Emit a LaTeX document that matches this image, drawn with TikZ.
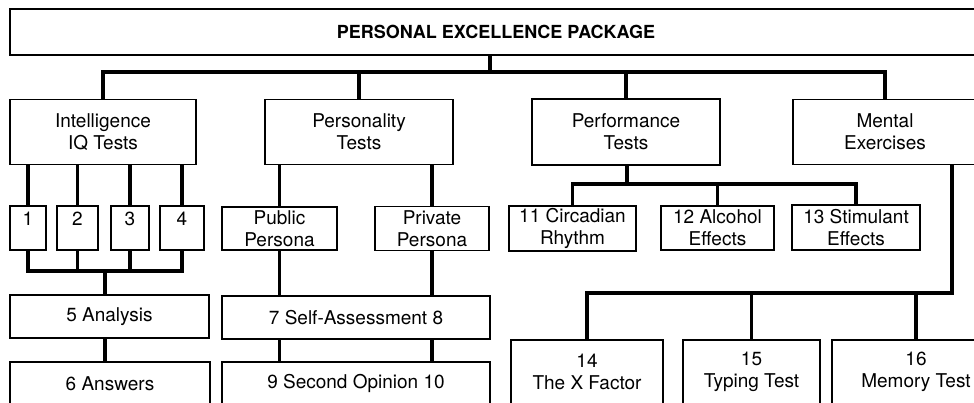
\documentclass[tikz,border=0pt]{standalone}
\usepackage{fontspec}
\setmainfont{TeX Gyre Heros}
\usetikzlibrary{positioning,calc}
\tikzset{
    box/.style = {
        draw,
        line width=1.3pt,
        inner sep=0pt,
        align=center,
        font=\fontsize{19}{22}\selectfont,
        },
    numbox/.style = {
        box,
        minimum width=36pt,
        minimum height=44pt,
        text height=20pt,
        text depth=24pt,
        },
    title/.style = {
        box,
        font=\fontsize{18}{22}\selectfont\bfseries,
        },
    conn/.style = {
        draw,
        line width=3.4pt,
        },
}

\begin{document}
\begin{tikzpicture}[x=1pt, y=-1pt]
            \useasboundingbox (0,0) rectangle (974,403);
            \clip (0,0) rectangle (974,403);

            \node[title, minimum width=972pt, minimum height=46pt] (top) at (496,32) {PERSONAL EXCELLENCE PACKAGE};

            \node[box, minimum width=186pt, minimum height=65pt] (iq) at (103,132) {Intelligence\\IQ Tests};
            \node[box, minimum width=188pt, minimum height=65pt] (pers) at (359,132) {Personality\\Tests};
            \node[box, minimum width=188pt, minimum height=66pt] (perf) at (626,132) {Performance\\Tests};
            \node[box, minimum width=184pt, minimum height=65pt] (ment) at (885,132) {Mental\\Exercises};

            % intelligence branch
            \node[numbox] (n1) at (28,228) {1};
            \node[numbox, minimum width=41pt] (n2) at (77.5,228) {2};
            \node[numbox, minimum width=38pt] (n3) at (130,228) {3};
            \node[numbox, minimum width=44pt] (n4) at (182,228) {4};
            \node[box, minimum width=199pt, minimum height=43pt] (ana) at (109.5,316.5) {5 Analysis};
            \node[box, minimum width=200pt, minimum height=43pt] (ans) at (110,383.5) {6 Answers};

            % personality branch
            \node[box, minimum width=115pt, minimum height=43pt] (pub) at (279.5,228.5) {Public\\Persona};
            \node[box, minimum width=114pt, minimum height=44pt] (priv) at (432,228.5) {Private\\Persona};
            \node[box, minimum width=268pt, minimum height=43pt] (self) at (356,317.5) {7 Self-Assessment 8};
            \node[box, minimum width=268pt, minimum height=43pt] (sec) at (356,383.5) {9 Second Opinion 10};

            % performance branch
            \node[box, minimum width=127pt, minimum height=45pt] (circ) at (572.5,228.5) {11 Circadian\\Rhythm};
            \node[box, minimum width=113pt, minimum height=44pt] (alc) at (717.5,228) {12 Alcohol\\Effects};
            \node[box, minimum width=128pt, minimum height=45pt] (stim) at (856,227.5) {13 Stimulant\\Effects};

            % mental branch
            \node[box, minimum width=152pt, minimum height=64pt] (xf) at (587,372) {14\\The X Factor};
            \node[box, minimum width=137pt, minimum height=64pt] (typ) at (751.5,372) {15\\Typing Test};
            \node[box, minimum width=168pt, minimum height=64pt] (mem) at (916,372) {16\\Memory Test};

            \coordinate (tb) at (490,72);
            \coordinate (ib) at (105,271);
            \coordinate (pb) at (627,184);
            \coordinate (mb) at (952,293);

            \path[conn] (top.south -| tb) -- (tb);
            \path[conn] (iq.north) -- (iq.north |- tb) -| (ment.north);
            \path[conn] (pers.north) -- (pers.north |- tb);
            \path[conn] (perf.north) -- (perf.north |- tb);

            \foreach \n in {n1,n2,n3,n4}
                \path[conn] (iq.south -| \n) -- (\n.north);
            \path[conn] (n1.south) -- (n1.south |- ib) -| (n4.south);
            \path[conn] (n2.south) -- (n2.south |- ib);
            \path[conn] (n3.south) -- (n3.south |- ib);
            \path[conn] (ana.north -| ib) -- (ib);
            \path[conn] (ana.south -| ib) -- (ans.north -| ib);

            \foreach \n in {pub,priv} {
                \path[conn] (pers.south -| \n) -- (\n.north);
                \path[conn] (\n.south) -- (self.north -| \n);
                \path[conn] (self.south -| \n) -- (sec.north -| \n);
            }

            \path[conn] (perf.south -| pb) -- (pb);
            \path[conn] (circ.north) -- (circ.north |- pb) -| (stim.north);
            \path[conn] (alc.north) -- (alc.north |- pb);

            \path[conn] (ment.south -| mb) -- (mb) -| (xf.north);
            \path[conn] (typ.north) -- (typ.north |- mb);
            \path[conn] (mem.north) -- (mem.north |- mb);
        \end{tikzpicture}
\end{document}
